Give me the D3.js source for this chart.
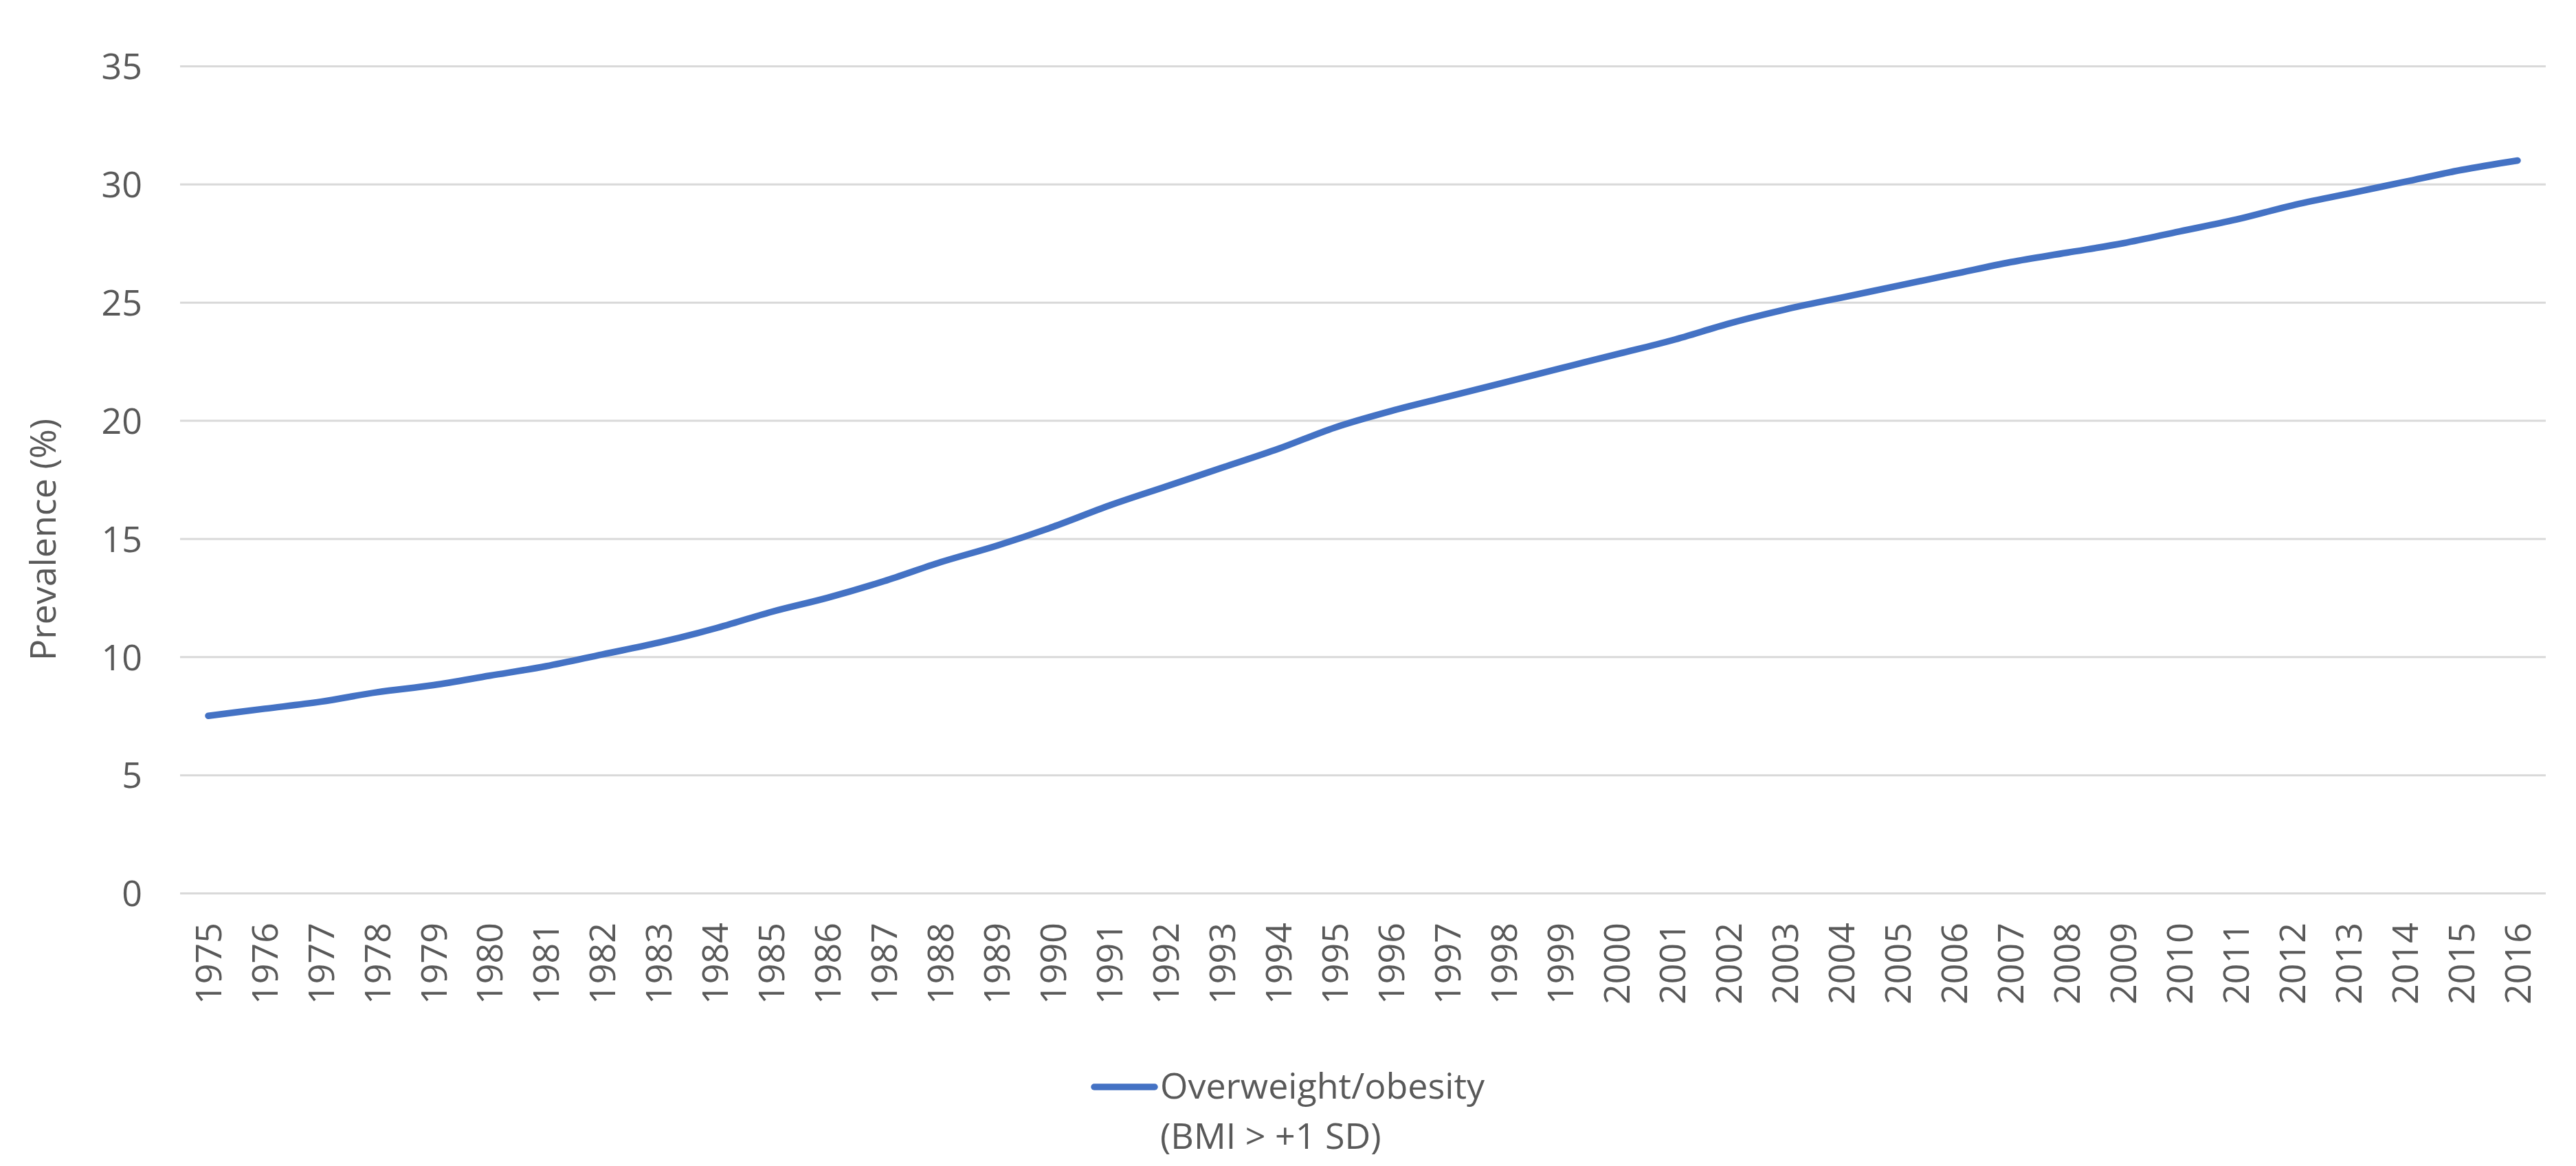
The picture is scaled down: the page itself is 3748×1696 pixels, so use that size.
<!DOCTYPE html>
<html>
<head>
<meta charset="utf-8">
<script src="https://cdn.jsdelivr.net/npm/d3@7/dist/d3.min.js"></script>
<style>
  html, body { margin: 0; padding: 0; background: #ffffff; }
  svg { display: block; }
  text { font-family: "Open Sans", "Noto Sans", sans-serif; fill: #595959; }
</style>
</head>
<body>
<svg id="chart" width="3748" height="1696"></svg>
<script>
const years = [1975,1976,1977,1978,1979,1980,1981,1982,1983,1984,1985,1986,1987,1988,1989,1990,
  1991,1992,1993,1994,1995,1996,1997,1998,1999,2000,2001,2002,2003,2004,2005,2006,2007,2008,2009,
  2010,2011,2012,2013,2014,2015,2016];
const prevalence = [7.5,7.8,8.1,8.5,8.8,9.2,9.6,10.1,10.6,11.2,11.9,12.5,13.2,14.0,14.7,15.5,
  16.4,17.2,18.0,18.8,19.7,20.4,21.0,21.6,22.2,22.8,23.4,24.1,24.7,25.2,25.7,26.2,26.7,27.1,27.5,
  28.0,28.5,29.1,29.6,30.1,30.6,31.0];
const yTicks = [0,5,10,15,20,25,30,35];
const seriesName = ["Overweight/obesity", "(BMI > +1 SD)"];
const yTitle = "Prevalence (%)";

const W = 3748, H = 1696;
const plot = { left: 262, right: 3704, top: 96, bottom: 1299 };
const fontSize = 52;

const svg = d3.select("#chart");

const x = d3.scaleBand().domain(years).range([plot.left, plot.right]).padding(0);
const y = d3.scaleLinear().domain([0, 35]).range([plot.bottom, plot.top]);

// gridlines + y labels
const yAxis = svg.append("g")
  .attr("transform", `translate(${plot.left},0)`)
  .call(d3.axisLeft(y).tickValues(yTicks).tickSize(-(plot.right - plot.left)).tickPadding(55));
yAxis.select(".domain").remove();
yAxis.selectAll(".tick line").attr("stroke", "#d9d9d9").attr("stroke-width", 3);
yAxis.selectAll(".tick text")
  .attr("font-size", fontSize)
  .attr("fill", "#595959")
  .attr("font-family", '"Open Sans", "Noto Sans", sans-serif')
  .attr("dy", "0.36em");

// x labels (rotated)
const xAxis = svg.append("g")
  .attr("transform", `translate(0,${plot.bottom})`)
  .call(d3.axisBottom(x).tickSize(0).tickPadding(0));
xAxis.select(".domain").remove();
xAxis.selectAll(".tick text")
  .attr("font-size", fontSize)
  .attr("fill", "#595959")
  .attr("font-family", '"Open Sans", "Noto Sans", sans-serif')
  .attr("text-anchor", "end")
  .attr("transform", "translate(0,43) rotate(-90)")
  .attr("x", 0)
  .attr("y", 0)
  .attr("dy", "0.36em");

// line
const line = d3.line()
  .x((d, i) => x(years[i]) + x.bandwidth() / 2)
  .y(d => y(d))
  .curve(d3.curveMonotoneX);

svg.append("path")
  .datum(prevalence)
  .attr("d", line)
  .attr("fill", "none")
  .attr("stroke", "#4472C4")
  .attr("stroke-width", 9.5)
  .attr("stroke-linecap", "round")
  .attr("stroke-linejoin", "round");

// y title
svg.append("text")
  .attr("transform", `translate(62,785) rotate(-90)`)
  .attr("text-anchor", "middle")
  .attr("dy", "0.36em")
  .attr("font-size", fontSize)
  .text(yTitle);

// legend
const lg = svg.append("g");
lg.append("line")
  .attr("x1", 1592).attr("x2", 1680)
  .attr("y1", 1581).attr("y2", 1581)
  .attr("stroke", "#4472C4").attr("stroke-width", 9.5).attr("stroke-linecap", "round");
lg.selectAll("text.lt")
  .data(seriesName)
  .join("text")
  .attr("class", "lt")
  .attr("x", 1688)
  .attr("y", (d, i) => 1598 + i * 73)
  .attr("font-size", fontSize)
  .text(d => d);
</script>
</body>
</html>
